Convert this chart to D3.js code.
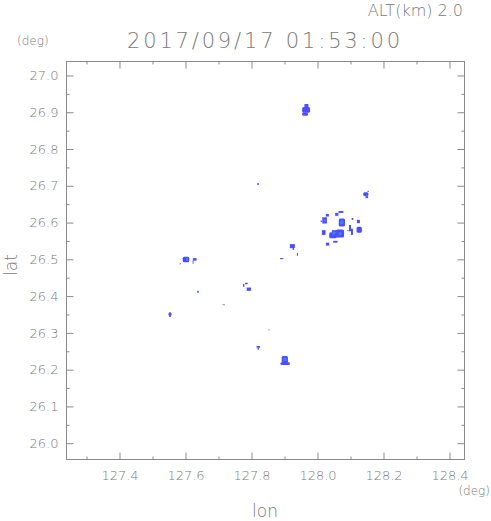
<!DOCTYPE html>
<html>
<head>
<meta charset="utf-8">
<script src="https://cdn.jsdelivr.net/npm/d3@7"></script>
<style>
  body { margin: 0; background: #fff; }
  text { font-family: "DejaVu Sans", sans-serif; font-weight: 200; fill: #7a7a7a; }
</style>
</head>
<body>
<script>
// titels
var altLabel = "ALT(km) 2.0";
var timeLabel = "2017/09/17 01:53:00";

// as-ticks
var lonTicks = [127.4, 127.6, 127.8, 128.0, 128.2, 128.4];
var lonMinor = [127.3, 127.5, 127.7, 127.9, 128.1, 128.3];
var latTicks = [26.0, 26.1, 26.2, 26.3, 26.4, 26.5, 26.6, 26.7, 26.8, 26.9, 27.0];
var latMinor = [26.05, 26.15, 26.25, 26.35, 26.45, 26.55, 26.65, 26.75, 26.85, 26.95];

// echo-cellen: [lonMin, lonMax, latMin, latMax]
var echoCells = [
    // noordelijke cel bij 26.9
    [127.962, 127.974, 26.909, 26.921],
    [127.955, 127.979, 26.897, 26.913],
    [127.955, 127.973, 26.889, 26.898],
    // los puntje
    [127.819, 127.824, 26.701, 26.706],
    // noordoost
    [128.140, 128.156, 26.671, 26.681],
    [128.147, 128.155, 26.665, 26.672],
    [128.153, 128.157, 26.682, 26.685],
    // cluster rond 128.05 / 26.58
    [128.065, 128.080, 26.625, 26.630],
    [128.055, 128.065, 26.617, 26.625],
    [128.027, 128.036, 26.615, 26.622],
    [128.016, 128.030, 26.596, 26.613],
    [128.011, 128.015, 26.600, 26.604],
    [128.066, 128.085, 26.588, 26.610],
    [128.105, 128.110, 26.606, 26.611],
    [128.121, 128.130, 26.597, 26.606],
    [128.097, 128.103, 26.575, 26.592],
    [128.103, 128.109, 26.565, 26.582],
    [128.120, 128.136, 26.571, 26.587],
    [128.015, 128.026, 26.565, 26.578],
    [128.037, 128.060, 26.556, 26.572],
    [128.057, 128.082, 26.558, 26.580],
    [128.045, 128.060, 26.572, 26.578],
    [128.049, 128.062, 26.544, 26.549],
    [128.027, 128.037, 26.536, 26.544],
    [128.092, 128.096, 26.575, 26.578],
    // rond 127.93 / 26.53
    [127.918, 127.933, 26.529, 26.540],
    [127.926, 127.930, 26.524, 26.530],
    [127.939, 127.942, 26.508, 26.516],
    [127.888, 127.898, 26.499, 26.502],
    // west bij 26.5
    [127.593, 127.613, 26.491, 26.506],
    [127.624, 127.635, 26.495, 26.502],
    [127.623, 127.626, 26.487, 26.495],
    [127.584, 127.587, 26.485, 26.488],
    // boogje bij 127.79 / 26.42
    [127.782, 127.790, 26.431, 26.435],
    [127.776, 127.780, 26.424, 26.432],
    [127.787, 127.800, 26.413, 26.422],
    // streepje
    [127.714, 127.721, 26.374, 26.376],
    // zuidwest
    [127.550, 127.559, 26.346, 26.352],
    [127.552, 127.557, 26.342, 26.355],
    // zuid
    [127.853, 127.856, 26.305, 26.308],
    [127.817, 127.827, 26.258, 26.263],
    [127.820, 127.824, 26.253, 26.258],
    [127.893, 127.912, 26.217, 26.236],
    [127.889, 127.918, 26.211, 26.219]
];

// sterkere kernen
var coreCells = [
    [128.148, 128.154, 26.667, 26.674],
    [128.020, 128.026, 26.601, 26.607],
    [128.070, 128.080, 26.594, 26.604],
    [128.046, 128.054, 26.565, 26.574],
    [128.066, 128.074, 26.564, 26.573],
    [127.603, 127.610, 26.495, 26.502],
    [127.636, 127.642, 26.408, 26.413],
    [127.898, 127.908, 26.222, 26.231]
];

var width = 491, height = 521;
var frame = { left: 66, right: 464, top: 61, bottom: 459 };

var x = d3.scaleLinear().domain([127.2394, 128.4455]).range([frame.left, frame.right]);
var y = d3.scaleLinear().domain([25.9557, 27.038]).range([frame.bottom, frame.top]);

var svg = d3.select("body").append("svg")
    .attr("width", width)
    .attr("height", height);

// echo's, grote cellen iets afgerond
function drawCells(data, cls, color) {
    svg.selectAll("." + cls)
        .data(data)
        .enter().append("rect")
        .attr("class", cls)
        .attr("x", function(d) { return x(d[0]); })
        .attr("width", function(d) { return x(d[1]) - x(d[0]); })
        .attr("y", function(d) { return y(d[3]); })
        .attr("height", function(d) { return y(d[2]) - y(d[3]); })
        .attr("rx", function(d) { return (x(d[1]) - x(d[0])) > 5 ? 1.5 : 0; })
        .attr("fill", color);
}
drawCells(echoCells, "echo", "#4d4dff");
drawCells(coreCells, "core", "#3f7cff");

// kader
svg.append("rect")
    .attr("x", frame.left + 0.5).attr("y", frame.top + 0.5)
    .attr("width", frame.right - frame.left).attr("height", frame.bottom - frame.top)
    .attr("fill", "none").attr("stroke", "#8a8a8a");

function styleAxis(g) {
    g.select(".domain").remove();
    g.selectAll("line").attr("stroke", "#8a8a8a");
    g.selectAll("text").style("font-size", "13px").attr("fill", "#7a7a7a");
}

// onderste as
svg.append("g")
    .attr("transform", "translate(0.5," + (frame.bottom + 0.5) + ")")
    .call(d3.axisBottom(x).tickValues(lonTicks).tickSize(-7).tickPadding(11)
        .tickFormat(d3.format(".1f")))
    .call(styleAxis);
svg.append("g")
    .attr("transform", "translate(0.5," + (frame.bottom + 0.5) + ")")
    .call(d3.axisBottom(x).tickValues(lonMinor).tickSize(-3).tickFormat(""))
    .call(styleAxis);
// bovenste as
svg.append("g")
    .attr("transform", "translate(0.5," + (frame.top + 0.5) + ")")
    .call(d3.axisTop(x).tickValues(lonTicks).tickSize(-7).tickFormat(""))
    .call(styleAxis);
svg.append("g")
    .attr("transform", "translate(0.5," + (frame.top + 0.5) + ")")
    .call(d3.axisTop(x).tickValues(lonMinor).tickSize(-3).tickFormat(""))
    .call(styleAxis);
// linker as
svg.append("g")
    .attr("transform", "translate(" + (frame.left + 0.5) + ",0.5)")
    .call(d3.axisLeft(y).tickValues(latTicks).tickSize(-7).tickPadding(8)
        .tickFormat(d3.format(".1f")))
    .call(styleAxis);
svg.append("g")
    .attr("transform", "translate(" + (frame.left + 0.5) + ",0.5)")
    .call(d3.axisLeft(y).tickValues(latMinor).tickSize(-3).tickFormat(""))
    .call(styleAxis);
// rechter as
svg.append("g")
    .attr("transform", "translate(" + (frame.right + 0.5) + ",0.5)")
    .call(d3.axisRight(y).tickValues(latTicks).tickSize(-7).tickFormat(""))
    .call(styleAxis);
svg.append("g")
    .attr("transform", "translate(" + (frame.right + 0.5) + ",0.5)")
    .call(d3.axisRight(y).tickValues(latMinor).tickSize(-3).tickFormat(""))
    .call(styleAxis);

// teksten
svg.append("text")
    .attr("x", 463).attr("y", 16)
    .attr("text-anchor", "end")
    .style("font-size", "16px")
    .text(altLabel);

svg.append("text")
    .attr("x", 127).attr("y", 48)
    .attr("textLength", 273).attr("lengthAdjust", "spacing")
    .style("font-size", "21px")
    .text(timeLabel);

svg.append("text")
    .attr("x", 17).attr("y", 45)
    .style("font-size", "12px")
    .text("(deg)");

svg.append("text")
    .attr("x", 490).attr("y", 495)
    .attr("text-anchor", "end")
    .style("font-size", "12px")
    .text("(deg)");

svg.append("text")
    .attr("x", 265).attr("y", 517)
    .attr("text-anchor", "middle")
    .style("font-size", "17px")
    .text("lon");

svg.append("text")
    .attr("transform", "translate(17,265) rotate(-90)")
    .attr("text-anchor", "middle")
    .style("font-size", "17px")
    .text("lat");
</script>
</body>
</html>
